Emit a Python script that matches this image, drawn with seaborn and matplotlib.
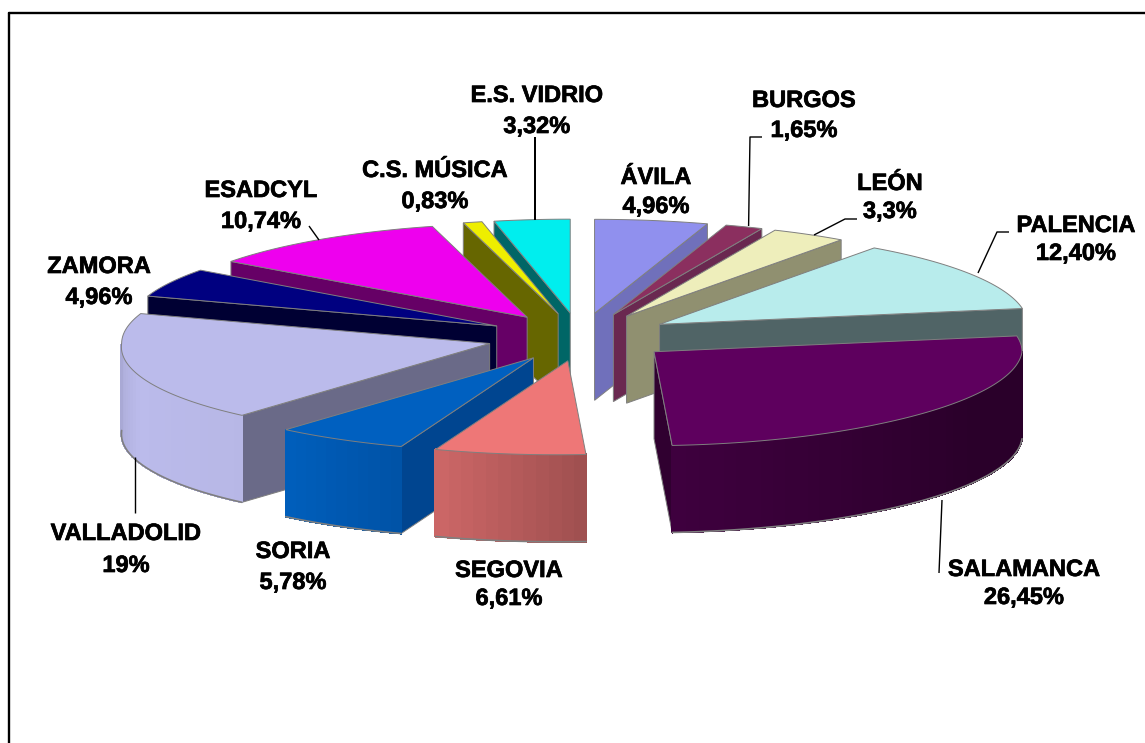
import numpy as np
import matplotlib
matplotlib.use("Agg")
import matplotlib.pyplot as plt
import matplotlib.patheffects as pe
import seaborn as sns

provincias = ["ÁVILA", "BURGOS", "LEÓN", "PALENCIA", "SALAMANCA", "SEGOVIA", "SORIA",
              "VALLADOLID", "ZAMORA", "ESADCYL", "C.S. MÚSICA", "E.S. VIDRIO"]
porcentajes = [4.96, 1.65, 3.3, 12.40, 26.45, 6.61, 5.78, 19, 4.96, 10.74, 0.83, 3.32]
etiquetas = ["4,96%", "1,65%", "3,3%", "12,40%", "26,45%", "6,61%", "5,78%",
             "19%", "4,96%", "10,74%", "0,83%", "3,32%"]

colores_top = ["#9090EE", "#8B2F5F", "#EEEEBB", "#B8ECEC", "#5E005E", "#EE7777",
               "#0060C0", "#BBBBEB", "#000080", "#EE00EE", "#EEEE00", "#00EEEE"]
colores_corte = ["#7070BB", "#6A2850", "#909070", "#506466", "#300030", "#8A4545",
                 "#004590", "#6A6A88", "#000033", "#660066", "#666600", "#006666"]

# label placement: centre x, baseline of the name, baseline of the percentage
label_x = [656, 804, 890, 1076, 1024, 509, 293, 126, 99, 261, 435, 537]
label_y1 = [184, 107, 190, 232, 576, 577, 558, 540, 273, 197, 177, 102]
label_y2 = [213, 137, 218, 260, 604, 605, 589, 572, 304, 228, 208, 133]

# leader lines
lineas = [
    ([534.6, 534.6], [137, 220], 2.0),
    ([309, 319], [226, 240], 1.4),
    ([762, 750, 748.6], [137, 137, 226], 1.4),
    ([857, 845, 814], [219, 219, 235], 1.4),
    ([1009, 997, 978], [232, 232, 273], 1.4),
    ([135, 135], [457, 513], 1.4),
    ([942, 939], [500, 573], 1.4),
]

# projected pie geometry
CX, CY = 580, 337
RX, RY = 368, 94
PROF = 87
EXPLODE = 0.255
DERIVA = 10.5  # the front of the original leans a little to the left
BORDE = "#7f7f7f"

sns.set_theme(style="white")
plt.rcParams["font.family"] = ["Liberation Sans", "DejaVu Sans"]


def proyecta(theta):
    # theta in degrees, clockwise from 12 o'clock
    t = np.radians(theta)
    deriva = DERIVA * np.clip(-np.cos(t) * 1.3, 0, 1)
    return RX * np.sin(t) - deriva, -RY * np.cos(t)


def sombra(theta):
    return np.interp(theta, [90, 120, 175, 199, 220, 250, 270],
                     [0.45, 0.45, 0.66, 0.86, 0.98, 1.0, 0.9])


def muro(x0, y0, theta, color):
    ex, ey = proyecta(theta)
    ax.fill([x0, x0 + ex, x0 + ex, x0], [y0, y0 + ey, y0 + ey + PROF, y0 + PROF],
            fc=color, ec=BORDE, lw=0.7)


fig = plt.figure(figsize=(11.45, 7.43), dpi=100)
ax = fig.add_axes([0, 0, 1, 1])
ax.set_xlim(0, 1145)
ax.set_ylim(743, 0)
ax.axis("off")

acum = np.cumsum([0] + porcentajes) / sum(porcentajes) * 360
inicios, finales = acum[:-1], acum[1:]
medios = (inicios + finales) / 2

# paint from back to front
orden = np.argsort(-np.cos(np.radians(medios)))

for i in orden:
    a, b, m = inicios[i], finales[i], medios[i]
    t = np.radians(m)
    x0 = CX + EXPLODE * RX * np.sin(t)
    y0 = CY - EXPLODE * RY * np.cos(t)
    base = np.array(matplotlib.colors.to_rgb(colores_top[i]))

    # cut walls that face the viewer
    if np.sin(np.radians(a)) < 0:
        muro(x0, y0, a, colores_corte[i])
    if np.sin(np.radians(b)) > 0:
        muro(x0, y0, b, colores_corte[i])

    # outer wall, only the part facing the viewer
    lo, hi = max(a, 90), min(b, 270)
    if lo < hi:
        pasos = np.linspace(lo, hi, int((hi - lo) / 2) + 2)
        for t0, t1 in zip(pasos[:-1], pasos[1:]):
            px0, py0 = proyecta(t0)
            px1, py1 = proyecta(t1)
            c = base * sombra((t0 + t1) / 2)
            ax.fill([x0 + px0, x0 + px1, x0 + px1, x0 + px0],
                    [y0 + py0, y0 + py1, y0 + py1 + PROF, y0 + py0 + PROF],
                    fc=c, ec=c, lw=0.8, antialiased=False)
        px, py = proyecta(np.linspace(lo, hi, 80))
        ax.plot(x0 + px, y0 + py + PROF, color=BORDE, lw=1.2)

    # top face
    px, py = proyecta(np.linspace(a, b, max(int(b - a) * 2, 4)))
    ax.fill(np.r_[x0, x0 + px], np.r_[y0, y0 + py], fc=colores_top[i], ec=BORDE, lw=0.7)

for xs, ys, grosor in lineas:
    ax.plot(xs, ys, color="black", lw=grosor * 0.72, solid_capstyle="butt")

# the original text is a little heavier than Liberation bold
grueso = [pe.withStroke(linewidth=0.5, foreground="black")]
for nombre, pct, x, y1, y2 in zip(provincias, etiquetas, label_x, label_y1, label_y2):
    ax.text(x, y1, nombre, ha="center", va="baseline", fontsize=17, fontweight="bold",
            color="black", path_effects=grueso)
    ax.text(x, y2, pct, ha="center", va="baseline", fontsize=17, fontweight="bold",
            color="black", path_effects=grueso)

# chart frame
ax.plot([9, 9], [743, 13], color="black", lw=1.7)
ax.plot([9, 1145], [13, 13], color="black", lw=1.7)

fig.savefig("out.png", dpi=100)
